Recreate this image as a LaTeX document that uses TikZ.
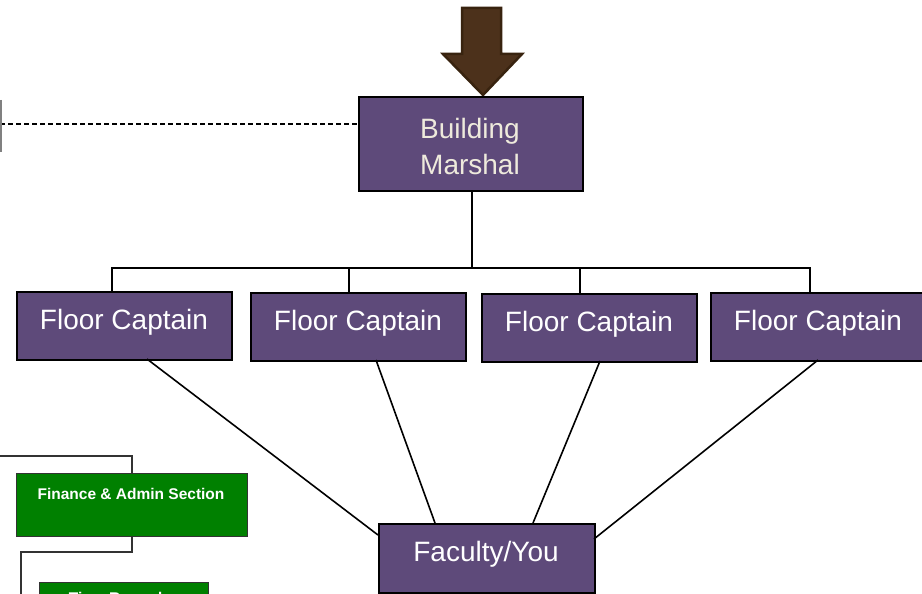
\documentclass[tikz,border=0pt]{standalone}
\usepackage{fontspec}
\setmainfont{Liberation Sans}
\begin{document}
\begin{tikzpicture}[x=1pt,y=-1pt,
  pbox/.style={draw=black,line width=1.8pt,fill=purpleF,text=white,font=\fontsize{28}{34}\selectfont,inner sep=0pt,anchor=north west},
  gbox/.style={draw=black!80,line width=1.4pt,fill=greenF,text=white,font=\bfseries\fontsize{15.5}{18}\selectfont,inner sep=0pt,anchor=north west},
  conn/.style={draw=black,line width=1.6pt},
  thin/.style={draw=black!80,line width=1.3pt}]
\definecolor{purpleF}{HTML}{5E4A7A}
\definecolor{greenF}{HTML}{008000}
\definecolor{beige}{HTML}{EEEADC}
\definecolor{brownF}{HTML}{4C311B}
\definecolor{brownD}{HTML}{38230F}
\useasboundingbox (0,0) rectangle (922,594);
\clip (0,0) rectangle (922,594);
% arrow
\draw[fill=brownF,draw=brownD,line width=2.5pt,line join=miter] (462,8) -- (501,8) -- (501,54) -- (522,54) -- (483,95) -- (443,54) -- (462,54) -- cycle;
% building marshal
\node[pbox,minimum width=224pt,minimum height=94pt,text=beige] (bm) at (358,96) {};
\node[text=beige,font=\fontsize{28}{36}\selectfont,align=center] (bmt) at (470,146) {Building\\Marshal};
% dashed
\coordinate (dl) at (0,124);
\draw[black,line width=1.6pt,dash pattern=on 5pt off 3pt] (dl) -- (bm.west |- dl);
\draw[gray,line width=2pt] (0.5,100) -- (0.5,152);
% floor captains
\node[pbox,minimum width=215pt,minimum height=68pt] (fc1) at (16,291) {};
\node[pbox,minimum width=215pt,minimum height=68pt] (fc2) at (250,292) {};
\node[pbox,minimum width=215pt,minimum height=68pt] (fc3) at (481,293) {};
\node[pbox,minimum width=215pt,minimum height=68pt] (fc4) at (710,292) {};
\node[text=white,font=\fontsize{28}{34}\selectfont] at (124,322) {Floor Captain};
\node[text=white,font=\fontsize{28}{34}\selectfont] at (358,323) {Floor Captain};
\node[text=white,font=\fontsize{28}{34}\selectfont] at (589,324) {Floor Captain};
\node[text=white,font=\fontsize{28}{34}\selectfont] at (818,323) {Floor Captain};
% bus
\coordinate (b0) at (472,268);
\draw[conn] (bm.south -| b0) -- (b0);
\draw[conn] (112,291) -- (112,268) -- (810,268) -- (810,292);
\draw[conn] (349,268) -- (349,292);
\draw[conn] (580,268) -- (580,293);
% faculty
\node[pbox,minimum width=216pt,minimum height=69pt] (fy) at (378,523) {};
\node[text=white,font=\fontsize{28}{34}\selectfont] at (486,554) {Faculty/You};
\draw[conn] (147,359) -- (378,535);
\draw[conn] (376,360) -- (435,523);
\draw[conn] (600,361) -- (533,523);
\draw[conn] (818,360) -- (594,539);
% green partial chart
\node[gbox,minimum width=231pt,minimum height=63pt] (fa) at (16,473) {};
\node[text=white,font=\bfseries\fontsize{15.5}{18}\selectfont] at (131,494) {Finance \& Admin Section};
\draw[thin] (0,456) -- (132,456) -- (fa.north -| 132,0);
\draw[thin] (fa.south -| 132,0) -- (132,552) -- (21,552) -- (21,600);
\node[gbox,minimum width=169pt,minimum height=40pt] (tr) at (39,582) {};
\node[text=white,font=\bfseries\fontsize{15.5}{18}\selectfont] at (123,598) {Time Recorder};
\end{tikzpicture}
\end{document}
